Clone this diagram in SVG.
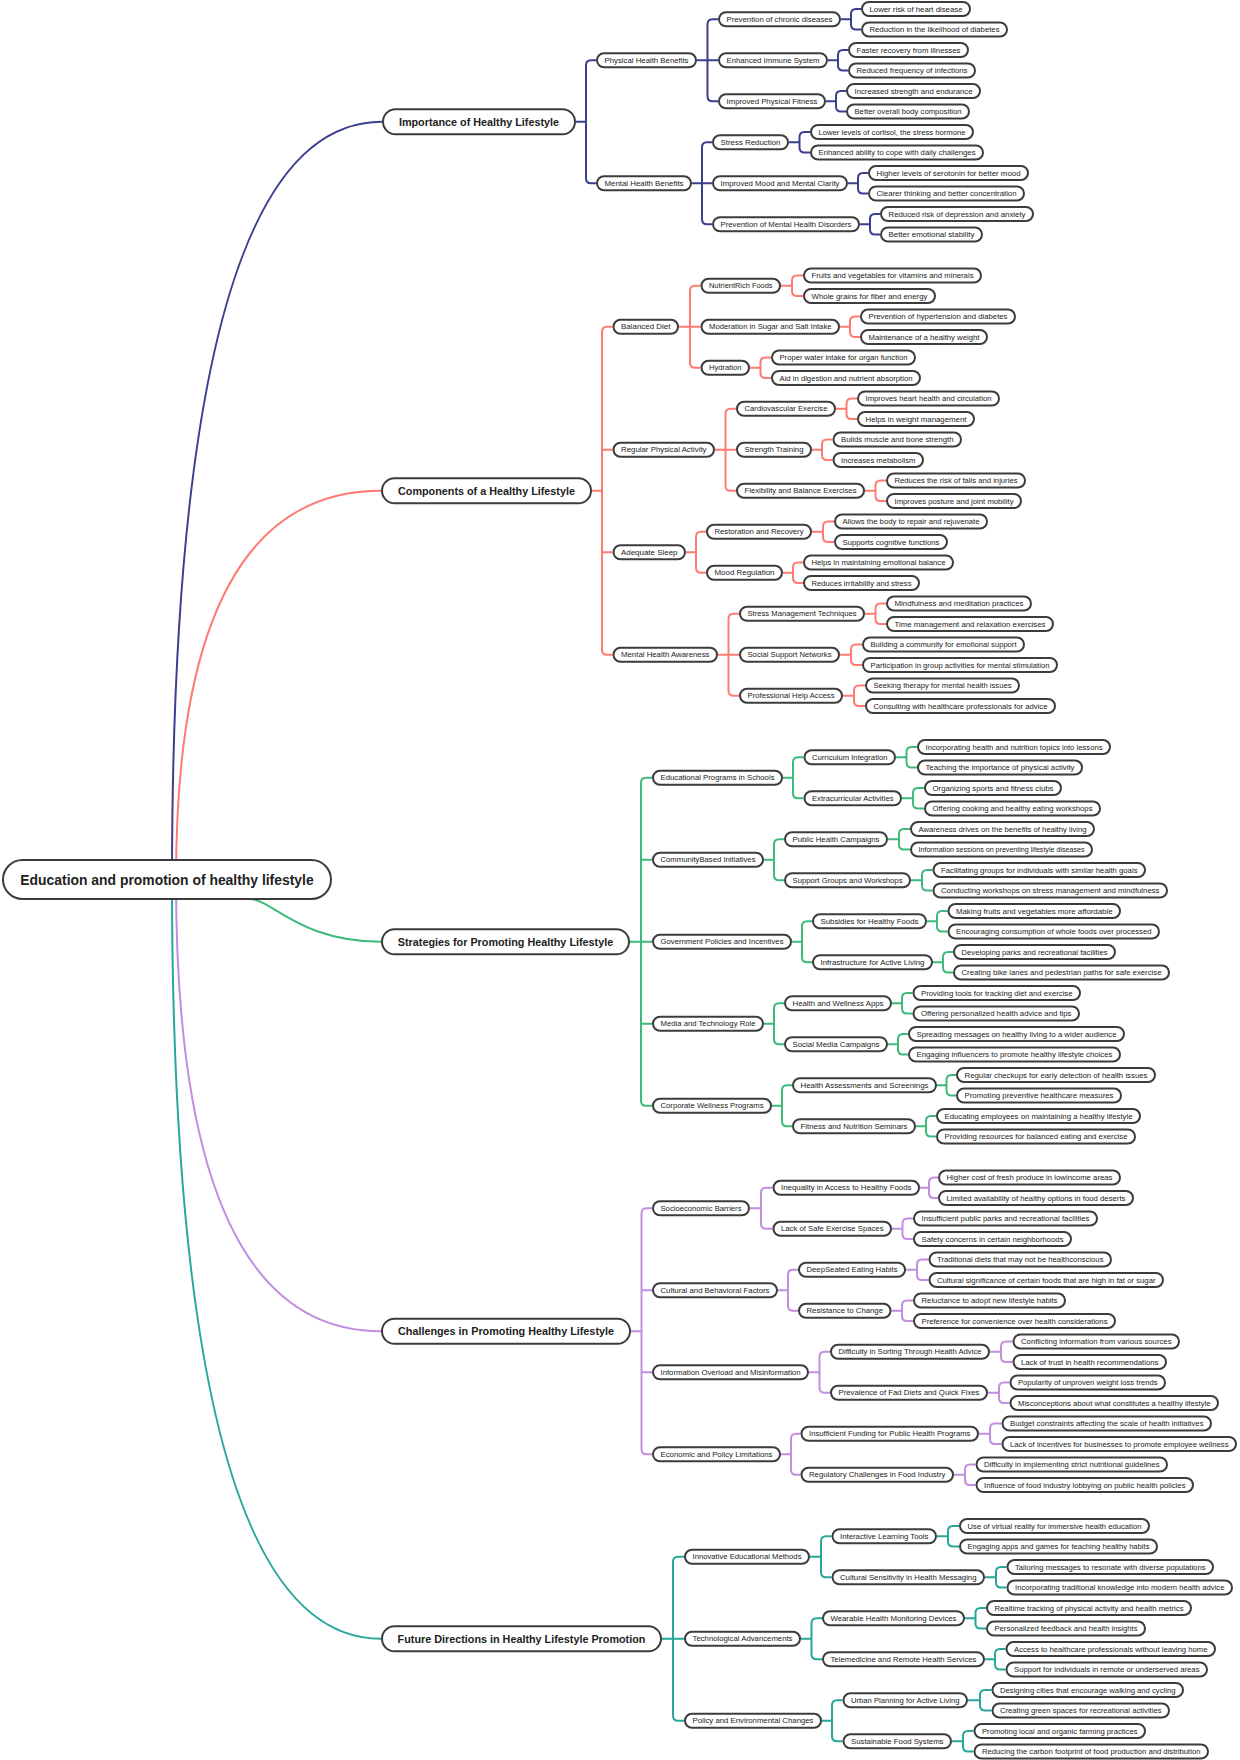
<svg xmlns="http://www.w3.org/2000/svg" width="1240" height="1760" viewBox="0 0 1240 1760">
<style>
.n rect{fill:#fff;stroke:#3c3c3c;stroke-width:2}
.n text{font-family:"Liberation Sans",Arial,sans-serif;font-size:7.6px;fill:#222;text-anchor:middle;dominant-baseline:central}
.m text{font-size:10.8px;font-weight:bold}
.r text{font-size:13.9px;font-weight:bold}
.l path{fill:none;stroke-width:2}
.c1{stroke:#3a3f8e}.c2{stroke:#ff7a72}.c3{stroke:#3dba7a}.c4{stroke:#c18ee0}.c5{stroke:#27a69a}
</style>
<rect width="1240" height="1760" fill="#fff"/>
<g id="connectors" class="l">
<path class="c1" d="M172 880Q172 121.75 382 121.75"/>
<path class="c2" d="M176 880Q176 490.75 381 490.75"/>
<path class="c3" d="M250 899C273 900 300 941.75 381 941.75"/>
<path class="c4" d="M176 880Q176 1331.25 381 1331.25"/>
<path class="c5" d="M172 880Q172 1638.75 381 1638.75"/>
<path class="c1" d="M576 121.75H586M596 60.25H591Q586 60.25 586 65.25V178.25Q586 183.25 591 183.25H596"/>
<path class="c1" d="M697 60.25H718M718 19.25H712.5Q707.5 19.25 707.5 24.25V96.25Q707.5 101.25 712.5 101.25H718"/>
<path class="c1" d="M692 183.25H712M712 142.25H707Q702 142.25 702 147.25V219.25Q702 224.25 707 224.25H712"/>
<path class="c1" d="M841 19.25H851M861 9H856Q851 9 851 14V24.5Q851 29.5 856 29.5H861"/>
<path class="c1" d="M828 60.25H838M848 50H843Q838 50 838 55V65.5Q838 70.5 843 70.5H848"/>
<path class="c1" d="M826 101.25H836M846 91H841Q836 91 836 96V106.5Q836 111.5 841 111.5H846"/>
<path class="c1" d="M789 142.25H799.5M810 132H804.5Q799.5 132 799.5 137V147.5Q799.5 152.5 804.5 152.5H810"/>
<path class="c1" d="M848 183.25H858M868 173H863Q858 173 858 178V188.5Q858 193.5 863 193.5H868"/>
<path class="c1" d="M860 224.25H870M880 214H875Q870 214 870 219V229.5Q870 234.5 875 234.5H880"/>
<path class="c2" d="M592 490.75H602M612.5 326.75H607Q602 326.75 602 331.75V649.75Q602 654.75 607 654.75H612.5M602 449.75H612.5M602 552.25H612.5"/>
<path class="c2" d="M679 326.75H700.5M700.5 285.75H695Q690 285.75 690 290.75V362.75Q690 367.75 695 367.75H700.5"/>
<path class="c2" d="M715 449.75H736M736 408.75H730.5Q725.5 408.75 725.5 413.75V485.75Q725.5 490.75 730.5 490.75H736"/>
<path class="c2" d="M686 552.25H696M706 531.75H701Q696 531.75 696 536.75V567.75Q696 572.75 701 572.75H706"/>
<path class="c2" d="M718 654.75H739M739 613.75H733.5Q728.5 613.75 728.5 618.75V690.75Q728.5 695.75 733.5 695.75H739"/>
<path class="c2" d="M781 285.75H792M803 275.5H797Q792 275.5 792 280.5V291Q792 296 797 296H803"/>
<path class="c2" d="M840 326.75H850M860 316.5H855Q850 316.5 850 321.5V332Q850 337 855 337H860"/>
<path class="c2" d="M750 367.75H760.5M771 357.5H765.5Q760.5 357.5 760.5 362.5V373Q760.5 378 765.5 378H771"/>
<path class="c2" d="M836 408.75H846.5M857 398.5H851.5Q846.5 398.5 846.5 403.5V414Q846.5 419 851.5 419H857"/>
<path class="c2" d="M812 449.75H822M832.5 439.5H827Q822 439.5 822 444.5V455Q822 460 827 460H832.5"/>
<path class="c2" d="M865 490.75H875.5M886 480.5H880.5Q875.5 480.5 875.5 485.5V496Q875.5 501 880.5 501H886"/>
<path class="c2" d="M812 531.75H823M834 521.5H828Q823 521.5 823 526.5V537Q823 542 828 542H834"/>
<path class="c2" d="M783 572.75H793M803 562.5H798Q793 562.5 793 567.5V578Q793 583 798 583H803"/>
<path class="c2" d="M865 613.75H875.5M886 603.5H880.5Q875.5 603.5 875.5 608.5V619Q875.5 624 880.5 624H886"/>
<path class="c2" d="M840 654.75H851M862 644.5H856Q851 644.5 851 649.5V660Q851 665 856 665H862"/>
<path class="c2" d="M843 695.75H854M865 685.5H859Q854 685.5 854 690.5V701Q854 706 859 706H865"/>
<path class="c3" d="M630 941.75H652M652 777.75H646Q641 777.75 641 782.75V1100.75Q641 1105.75 646 1105.75H652M641 859.75H652M641 1023.75H652"/>
<path class="c3" d="M783 777.75H793M803.5 757.25H798Q793 757.25 793 762.25V793.25Q793 798.25 798 798.25H803.5"/>
<path class="c3" d="M764 859.75H774M784 839.25H779Q774 839.25 774 844.25V875.25Q774 880.25 779 880.25H784"/>
<path class="c3" d="M792 941.75H802M812 921.25H807Q802 921.25 802 926.25V957.25Q802 962.25 807 962.25H812"/>
<path class="c3" d="M764 1023.75H774M784 1003.25H779Q774 1003.25 774 1008.25V1039.25Q774 1044.25 779 1044.25H784"/>
<path class="c3" d="M772 1105.75H782M792 1085.25H787Q782 1085.25 782 1090.25V1121.25Q782 1126.25 787 1126.25H792"/>
<path class="c3" d="M896 757.25H906.5M917 747H911.5Q906.5 747 906.5 752V762.5Q906.5 767.5 911.5 767.5H917"/>
<path class="c3" d="M902 798.25H913M924 788H918Q913 788 913 793V803.5Q913 808.5 918 808.5H924"/>
<path class="c3" d="M888 839.25H899M910 829H904Q899 829 899 834V844.5Q899 849.5 904 849.5H910"/>
<path class="c3" d="M911 880.25H922M932.5 870H927Q922 870 922 875V885.5Q922 890.5 927 890.5H932.5"/>
<path class="c3" d="M927 921.25H937M947.5 911H942Q937 911 937 916V926.5Q937 931.5 942 931.5H947.5"/>
<path class="c3" d="M933 962.25H943M953 952H948Q943 952 943 957V967.5Q943 972.5 948 972.5H953"/>
<path class="c3" d="M892 1003.25H902M912.5 993H907Q902 993 902 998V1008.5Q902 1013.5 907 1013.5H912.5"/>
<path class="c3" d="M888 1044.25H898M908 1034H903Q898 1034 898 1039V1049.5Q898 1054.5 903 1054.5H908"/>
<path class="c3" d="M937 1085.25H946.5M956 1075H951.5Q946.5 1075 946.5 1080V1090.5Q946.5 1095.5 951.5 1095.5H956"/>
<path class="c3" d="M916 1126.25H926M936 1116H931Q926 1116 926 1121V1131.5Q926 1136.5 931 1136.5H936"/>
<path class="c4" d="M631 1331.25H641.5M652 1208.25H646.5Q641.5 1208.25 641.5 1213.25V1449.25Q641.5 1454.25 646.5 1454.25H652M641.5 1290.25H652M641.5 1372.25H652"/>
<path class="c4" d="M750 1208.25H761M772.5 1187.75H766Q761 1187.75 761 1192.75V1223.75Q761 1228.75 766 1228.75H772.5"/>
<path class="c4" d="M778 1290.25H788M798 1269.75H793Q788 1269.75 788 1274.75V1305.75Q788 1310.75 793 1310.75H798"/>
<path class="c4" d="M809 1372.25H819.5M830 1351.75H824.5Q819.5 1351.75 819.5 1356.75V1387.75Q819.5 1392.75 824.5 1392.75H830"/>
<path class="c4" d="M781 1454.25H791M800.5 1433.75H796Q791 1433.75 791 1438.75V1469.75Q791 1474.75 796 1474.75H800.5"/>
<path class="c4" d="M920 1187.75H929M938 1177.5H934Q929 1177.5 929 1182.5V1193Q929 1198 934 1198H938"/>
<path class="c4" d="M892 1228.75H902.5M913 1218.5H907.5Q902.5 1218.5 902.5 1223.5V1234Q902.5 1239 907.5 1239H913"/>
<path class="c4" d="M906 1269.75H917M928.5 1259.5H922Q917 1259.5 917 1264.5V1275Q917 1280 922 1280H928.5"/>
<path class="c4" d="M891.5 1310.75H902M913 1300.5H907Q902 1300.5 902 1305.5V1316Q902 1321 907 1321H913"/>
<path class="c4" d="M990 1351.75H1001M1012.5 1341.5H1006Q1001 1341.5 1001 1346.5V1357Q1001 1362 1006 1362H1012.5"/>
<path class="c4" d="M988 1392.75H999M1009.5 1382.5H1004Q999 1382.5 999 1387.5V1398Q999 1403 1004 1403H1009.5"/>
<path class="c4" d="M979 1433.75H990M1001.5 1423.5H995Q990 1423.5 990 1428.5V1439Q990 1444 995 1444H1001.5"/>
<path class="c4" d="M954 1474.75H965M975.5 1464.5H970Q965 1464.5 965 1469.5V1480Q965 1485 970 1485H975.5"/>
<path class="c5" d="M662 1638.75H684M684 1556.75H678Q673 1556.75 673 1561.75V1715.75Q673 1720.75 678 1720.75H684"/>
<path class="c5" d="M810 1556.75H821M831.5 1536.25H826Q821 1536.25 821 1541.25V1572.25Q821 1577.25 826 1577.25H831.5"/>
<path class="c5" d="M801 1638.75H811.5M822 1618.25H816.5Q811.5 1618.25 811.5 1623.25V1654.25Q811.5 1659.25 816.5 1659.25H822"/>
<path class="c5" d="M822 1720.75H832M842.5 1700.25H837Q832 1700.25 832 1705.25V1736.25Q832 1741.25 837 1741.25H842.5"/>
<path class="c5" d="M937 1536.25H948M959 1526H953Q948 1526 948 1531V1541.5Q948 1546.5 953 1546.5H959"/>
<path class="c5" d="M985 1577.25H996M1006.5 1567H1001Q996 1567 996 1572V1582.5Q996 1587.5 1001 1587.5H1006.5"/>
<path class="c5" d="M965 1618.25H975.5M986 1608H980.5Q975.5 1608 975.5 1613V1623.5Q975.5 1628.5 980.5 1628.5H986"/>
<path class="c5" d="M985 1659.25H995M1005.5 1649H1000Q995 1649 995 1654V1664.5Q995 1669.5 1000 1669.5H1005.5"/>
<path class="c5" d="M968 1700.25H980M991.5 1690H985Q980 1690 980 1695V1705.5Q980 1710.5 985 1710.5H991.5"/>
<path class="c5" d="M952 1741.25H963M973.5 1731H968Q963 1731 963 1736V1746.5Q963 1751.5 968 1751.5H973.5"/>
</g>
<g id="root" class="n r"><rect x="3" y="860" width="328" height="39" rx="19.5"/><text x="167" y="879.5">Education and promotion of healthy lifestyle</text></g>
<g id="main1" class="n m"><rect x="383" y="109.25" width="192" height="25" rx="12.5"/><text x="479" y="121.75">Importance of Healthy Lifestyle</text></g>
<g id="main2" class="n m"><rect x="382" y="478.25" width="209" height="25" rx="12.5"/><text x="486.5" y="490.75">Components of a Healthy Lifestyle</text></g>
<g id="main3" class="n m"><rect x="382" y="929.25" width="247" height="25" rx="12.5"/><text x="505.5" y="941.75">Strategies for Promoting Healthy Lifestyle</text></g>
<g id="main4" class="n m"><rect x="382" y="1318.75" width="248" height="25" rx="12.5"/><text x="506" y="1331.25">Challenges in Promoting Healthy Lifestyle</text></g>
<g id="main5" class="n m"><rect x="382" y="1626.25" width="279" height="25" rx="12.5"/><text x="521.5" y="1638.75">Future Directions in Healthy Lifestyle Promotion</text></g>
<g id="n1a" class="n"><rect x="597" y="53.25" width="99" height="14" rx="7"/><text x="646.5" y="60.25" textLength="84" lengthAdjust="spacingAndGlyphs">Physical Health Benefits</text></g>
<g id="n1b" class="n"><rect x="597" y="176.25" width="94" height="14" rx="7"/><text x="644" y="183.25" textLength="79" lengthAdjust="spacingAndGlyphs">Mental Health Benefits</text></g>
<g id="n1a1" class="n"><rect x="719" y="12.25" width="121" height="14" rx="7"/><text x="779.5" y="19.25" textLength="106" lengthAdjust="spacingAndGlyphs">Prevention of chronic diseases</text></g>
<g id="n1a2" class="n"><rect x="719" y="53.25" width="108" height="14" rx="7"/><text x="773" y="60.25" textLength="93" lengthAdjust="spacingAndGlyphs">Enhanced Immune System</text></g>
<g id="n1a3" class="n"><rect x="719" y="94.25" width="106" height="14" rx="7"/><text x="772" y="101.25" textLength="91" lengthAdjust="spacingAndGlyphs">Improved Physical Fitness</text></g>
<g id="n1b1" class="n"><rect x="713" y="135.25" width="75" height="14" rx="7"/><text x="750.5" y="142.25" textLength="60" lengthAdjust="spacingAndGlyphs">Stress Reduction</text></g>
<g id="n1b2" class="n"><rect x="713" y="176.25" width="134" height="14" rx="7"/><text x="780" y="183.25" textLength="119" lengthAdjust="spacingAndGlyphs">Improved Mood and Mental Clarity</text></g>
<g id="n1b3" class="n"><rect x="713" y="217.25" width="146" height="14" rx="7"/><text x="786" y="224.25" textLength="131" lengthAdjust="spacingAndGlyphs">Prevention of Mental Health Disorders</text></g>
<g id="f0" class="n"><rect x="862" y="2" width="108" height="14" rx="7"/><text x="916" y="9" textLength="93" lengthAdjust="spacingAndGlyphs">Lower risk of heart disease</text></g>
<g id="f1" class="n"><rect x="862" y="22.5" width="145" height="14" rx="7"/><text x="934.5" y="29.5" textLength="130" lengthAdjust="spacingAndGlyphs">Reduction in the likelihood of diabetes</text></g>
<g id="f2" class="n"><rect x="849" y="43" width="119" height="14" rx="7"/><text x="908.5" y="50" textLength="104" lengthAdjust="spacingAndGlyphs">Faster recovery from illnesses</text></g>
<g id="f3" class="n"><rect x="849" y="63.5" width="126" height="14" rx="7"/><text x="912" y="70.5" textLength="111" lengthAdjust="spacingAndGlyphs">Reduced frequency of infections</text></g>
<g id="f4" class="n"><rect x="847" y="84" width="133" height="14" rx="7"/><text x="913.5" y="91" textLength="118" lengthAdjust="spacingAndGlyphs">Increased strength and endurance</text></g>
<g id="f5" class="n"><rect x="847" y="104.5" width="122" height="14" rx="7"/><text x="908" y="111.5" textLength="107" lengthAdjust="spacingAndGlyphs">Better overall body composition</text></g>
<g id="f6" class="n"><rect x="811" y="125" width="162" height="14" rx="7"/><text x="892" y="132" textLength="147" lengthAdjust="spacingAndGlyphs">Lower levels of cortisol, the stress hormone</text></g>
<g id="f7" class="n"><rect x="811" y="145.5" width="172" height="14" rx="7"/><text x="897" y="152.5" textLength="157" lengthAdjust="spacingAndGlyphs">Enhanced ability to cope with daily challenges</text></g>
<g id="f8" class="n"><rect x="869" y="166" width="159" height="14" rx="7"/><text x="948.5" y="173" textLength="144" lengthAdjust="spacingAndGlyphs">Higher levels of serotonin for better mood</text></g>
<g id="f9" class="n"><rect x="869" y="186.5" width="155" height="14" rx="7"/><text x="946.5" y="193.5" textLength="140" lengthAdjust="spacingAndGlyphs">Clearer thinking and better concentration</text></g>
<g id="f10" class="n"><rect x="881" y="207" width="152" height="14" rx="7"/><text x="957" y="214" textLength="137" lengthAdjust="spacingAndGlyphs">Reduced risk of depression and anxiety</text></g>
<g id="f11" class="n"><rect x="881" y="227.5" width="101" height="14" rx="7"/><text x="931.5" y="234.5" textLength="86" lengthAdjust="spacingAndGlyphs">Better emotional stability</text></g>
<g id="n2a" class="n"><rect x="613.5" y="319.75" width="64.5" height="14" rx="7"/><text x="645.75" y="326.75" textLength="49.5" lengthAdjust="spacingAndGlyphs">Balanced Diet</text></g>
<g id="n2b" class="n"><rect x="613.5" y="442.75" width="100.5" height="14" rx="7"/><text x="663.75" y="449.75" textLength="85.5" lengthAdjust="spacingAndGlyphs">Regular Physical Activity</text></g>
<g id="n2c" class="n"><rect x="613.5" y="545.25" width="71.5" height="14" rx="7"/><text x="649.25" y="552.25" textLength="56.5" lengthAdjust="spacingAndGlyphs">Adequate Sleep</text></g>
<g id="n2d" class="n"><rect x="613.5" y="647.75" width="103.5" height="14" rx="7"/><text x="665.25" y="654.75" textLength="88.5" lengthAdjust="spacingAndGlyphs">Mental Health Awareness</text></g>
<g id="n2a1" class="n"><rect x="701.5" y="278.75" width="78.5" height="14" rx="7"/><text x="740.75" y="285.75" textLength="63.5" lengthAdjust="spacingAndGlyphs">NutrientRich Foods</text></g>
<g id="n2a2" class="n"><rect x="701.5" y="319.75" width="137.5" height="14" rx="7"/><text x="770.25" y="326.75" textLength="122.5" lengthAdjust="spacingAndGlyphs">Moderation in Sugar and Salt Intake</text></g>
<g id="n2a3" class="n"><rect x="701.5" y="360.75" width="47.5" height="14" rx="7"/><text x="725.25" y="367.75" textLength="32.5" lengthAdjust="spacingAndGlyphs">Hydration</text></g>
<g id="n2b1" class="n"><rect x="737" y="401.75" width="98" height="14" rx="7"/><text x="786" y="408.75" textLength="83" lengthAdjust="spacingAndGlyphs">Cardiovascular Exercise</text></g>
<g id="n2b2" class="n"><rect x="737" y="442.75" width="74" height="14" rx="7"/><text x="774" y="449.75" textLength="59" lengthAdjust="spacingAndGlyphs">Strength Training</text></g>
<g id="n2b3" class="n"><rect x="737" y="483.75" width="127" height="14" rx="7"/><text x="800.5" y="490.75" textLength="112" lengthAdjust="spacingAndGlyphs">Flexibility and Balance Exercises</text></g>
<g id="n2c1" class="n"><rect x="707" y="524.75" width="104" height="14" rx="7"/><text x="759" y="531.75" textLength="89" lengthAdjust="spacingAndGlyphs">Restoration and Recovery</text></g>
<g id="n2c2" class="n"><rect x="707" y="565.75" width="75" height="14" rx="7"/><text x="744.5" y="572.75" textLength="60" lengthAdjust="spacingAndGlyphs">Mood Regulation</text></g>
<g id="n2d1" class="n"><rect x="740" y="606.75" width="124" height="14" rx="7"/><text x="802" y="613.75" textLength="109" lengthAdjust="spacingAndGlyphs">Stress Management Techniques</text></g>
<g id="n2d2" class="n"><rect x="740" y="647.75" width="99" height="14" rx="7"/><text x="789.5" y="654.75" textLength="84" lengthAdjust="spacingAndGlyphs">Social Support Networks</text></g>
<g id="n2d3" class="n"><rect x="740" y="688.75" width="102" height="14" rx="7"/><text x="791" y="695.75" textLength="87" lengthAdjust="spacingAndGlyphs">Professional Help Access</text></g>
<g id="f13" class="n"><rect x="804" y="268.5" width="177" height="14" rx="7"/><text x="892.5" y="275.5" textLength="162" lengthAdjust="spacingAndGlyphs">Fruits and vegetables for vitamins and minerals</text></g>
<g id="f14" class="n"><rect x="804" y="289" width="131" height="14" rx="7"/><text x="869.5" y="296" textLength="116" lengthAdjust="spacingAndGlyphs">Whole grains for fiber and energy</text></g>
<g id="f15" class="n"><rect x="861" y="309.5" width="154" height="14" rx="7"/><text x="938" y="316.5" textLength="139" lengthAdjust="spacingAndGlyphs">Prevention of hypertension and diabetes</text></g>
<g id="f16" class="n"><rect x="861" y="330" width="126" height="14" rx="7"/><text x="924" y="337" textLength="111" lengthAdjust="spacingAndGlyphs">Maintenance of a healthy weight</text></g>
<g id="f17" class="n"><rect x="772" y="350.5" width="143" height="14" rx="7"/><text x="843.5" y="357.5" textLength="128" lengthAdjust="spacingAndGlyphs">Proper water intake for organ function</text></g>
<g id="f18" class="n"><rect x="772" y="371" width="148" height="14" rx="7"/><text x="846" y="378" textLength="133" lengthAdjust="spacingAndGlyphs">Aid in digestion and nutrient absorption</text></g>
<g id="f19" class="n"><rect x="858" y="391.5" width="141" height="14" rx="7"/><text x="928.5" y="398.5" textLength="126" lengthAdjust="spacingAndGlyphs">Improves heart health and circulation</text></g>
<g id="f20" class="n"><rect x="858" y="412" width="116" height="14" rx="7"/><text x="916" y="419" textLength="101" lengthAdjust="spacingAndGlyphs">Helps in weight management</text></g>
<g id="f21" class="n"><rect x="833.5" y="432.5" width="127.5" height="14" rx="7"/><text x="897.25" y="439.5" textLength="112.5" lengthAdjust="spacingAndGlyphs">Builds muscle and bone strength</text></g>
<g id="f22" class="n"><rect x="833.5" y="453" width="89.5" height="14" rx="7"/><text x="878.25" y="460" textLength="74.5" lengthAdjust="spacingAndGlyphs">Increases metabolism</text></g>
<g id="f23" class="n"><rect x="887" y="473.5" width="138" height="14" rx="7"/><text x="956" y="480.5" textLength="123" lengthAdjust="spacingAndGlyphs">Reduces the risk of falls and injuries</text></g>
<g id="f24" class="n"><rect x="887" y="494" width="134" height="14" rx="7"/><text x="954" y="501" textLength="119" lengthAdjust="spacingAndGlyphs">Improves posture and joint mobility</text></g>
<g id="f25" class="n"><rect x="835" y="514.5" width="152" height="14" rx="7"/><text x="911" y="521.5" textLength="137" lengthAdjust="spacingAndGlyphs">Allows the body to repair and rejuvenate</text></g>
<g id="f26" class="n"><rect x="835" y="535" width="112" height="14" rx="7"/><text x="891" y="542" textLength="97" lengthAdjust="spacingAndGlyphs">Supports cognitive functions</text></g>
<g id="f27" class="n"><rect x="804" y="555.5" width="149" height="14" rx="7"/><text x="878.5" y="562.5" textLength="134" lengthAdjust="spacingAndGlyphs">Helps in maintaining emotional balance</text></g>
<g id="f28" class="n"><rect x="804" y="576" width="115" height="14" rx="7"/><text x="861.5" y="583" textLength="100" lengthAdjust="spacingAndGlyphs">Reduces irritability and stress</text></g>
<g id="f29" class="n"><rect x="887" y="596.5" width="144" height="14" rx="7"/><text x="959" y="603.5" textLength="129" lengthAdjust="spacingAndGlyphs">Mindfulness and meditation practices</text></g>
<g id="f30" class="n"><rect x="887" y="617" width="166" height="14" rx="7"/><text x="970" y="624" textLength="151" lengthAdjust="spacingAndGlyphs">Time management and relaxation exercises</text></g>
<g id="f31" class="n"><rect x="863" y="637.5" width="161" height="14" rx="7"/><text x="943.5" y="644.5" textLength="146" lengthAdjust="spacingAndGlyphs">Building a community for emotional support</text></g>
<g id="f32" class="n"><rect x="863" y="658" width="194" height="14" rx="7"/><text x="960" y="665" textLength="179" lengthAdjust="spacingAndGlyphs">Participation in group activities for mental stimulation</text></g>
<g id="f33" class="n"><rect x="866" y="678.5" width="153" height="14" rx="7"/><text x="942.5" y="685.5" textLength="138" lengthAdjust="spacingAndGlyphs">Seeking therapy for mental health issues</text></g>
<g id="f34" class="n"><rect x="866" y="699" width="189" height="14" rx="7"/><text x="960.5" y="706" textLength="174" lengthAdjust="spacingAndGlyphs">Consulting with healthcare professionals for advice</text></g>
<g id="n3a" class="n"><rect x="653" y="770.75" width="129" height="14" rx="7"/><text x="717.5" y="777.75" textLength="114" lengthAdjust="spacingAndGlyphs">Educational Programs in Schools</text></g>
<g id="n3b" class="n"><rect x="653" y="852.75" width="110" height="14" rx="7"/><text x="708" y="859.75" textLength="95" lengthAdjust="spacingAndGlyphs">CommunityBased Initiatives</text></g>
<g id="n3c" class="n"><rect x="653" y="934.75" width="138" height="14" rx="7"/><text x="722" y="941.75" textLength="123" lengthAdjust="spacingAndGlyphs">Government Policies and Incentives</text></g>
<g id="n3d" class="n"><rect x="653" y="1016.75" width="110" height="14" rx="7"/><text x="708" y="1023.75" textLength="95" lengthAdjust="spacingAndGlyphs">Media and Technology Role</text></g>
<g id="n3e" class="n"><rect x="653" y="1098.75" width="118" height="14" rx="7"/><text x="712" y="1105.75" textLength="103" lengthAdjust="spacingAndGlyphs">Corporate Wellness Programs</text></g>
<g id="n3a1" class="n"><rect x="804.5" y="750.25" width="90.5" height="14" rx="7"/><text x="849.75" y="757.25" textLength="75.5" lengthAdjust="spacingAndGlyphs">Curriculum Integration</text></g>
<g id="n3a2" class="n"><rect x="804.5" y="791.25" width="96.5" height="14" rx="7"/><text x="852.75" y="798.25" textLength="81.5" lengthAdjust="spacingAndGlyphs">Extracurricular Activities</text></g>
<g id="n3b1" class="n"><rect x="785" y="832.25" width="102" height="14" rx="7"/><text x="836" y="839.25" textLength="87" lengthAdjust="spacingAndGlyphs">Public Health Campaigns</text></g>
<g id="n3b2" class="n"><rect x="785" y="873.25" width="125" height="14" rx="7"/><text x="847.5" y="880.25" textLength="110" lengthAdjust="spacingAndGlyphs">Support Groups and Workshops</text></g>
<g id="n3c1" class="n"><rect x="813" y="914.25" width="113" height="14" rx="7"/><text x="869.5" y="921.25" textLength="98" lengthAdjust="spacingAndGlyphs">Subsidies for Healthy Foods</text></g>
<g id="n3c2" class="n"><rect x="813" y="955.25" width="119" height="14" rx="7"/><text x="872.5" y="962.25" textLength="104" lengthAdjust="spacingAndGlyphs">Infrastructure for Active Living</text></g>
<g id="n3d1" class="n"><rect x="785" y="996.25" width="106" height="14" rx="7"/><text x="838" y="1003.25" textLength="91" lengthAdjust="spacingAndGlyphs">Health and Wellness Apps</text></g>
<g id="n3d2" class="n"><rect x="785" y="1037.25" width="102" height="14" rx="7"/><text x="836" y="1044.25" textLength="87" lengthAdjust="spacingAndGlyphs">Social Media Campaigns</text></g>
<g id="n3e1" class="n"><rect x="793" y="1078.25" width="143" height="14" rx="7"/><text x="864.5" y="1085.25" textLength="128" lengthAdjust="spacingAndGlyphs">Health Assessments and Screenings</text></g>
<g id="n3e2" class="n"><rect x="793" y="1119.25" width="122" height="14" rx="7"/><text x="854" y="1126.25" textLength="107" lengthAdjust="spacingAndGlyphs">Fitness and Nutrition Seminars</text></g>
<g id="f36" class="n"><rect x="918" y="740" width="192" height="14" rx="7"/><text x="1014" y="747" textLength="177" lengthAdjust="spacingAndGlyphs">Incorporating health and nutrition topics into lessons</text></g>
<g id="f37" class="n"><rect x="918" y="760.5" width="164" height="14" rx="7"/><text x="1000" y="767.5" textLength="149" lengthAdjust="spacingAndGlyphs">Teaching the importance of physical activity</text></g>
<g id="f38" class="n"><rect x="925" y="781" width="136" height="14" rx="7"/><text x="993" y="788" textLength="121" lengthAdjust="spacingAndGlyphs">Organizing sports and fitness clubs</text></g>
<g id="f39" class="n"><rect x="925" y="801.5" width="175" height="14" rx="7"/><text x="1012.5" y="808.5" textLength="160" lengthAdjust="spacingAndGlyphs">Offering cooking and healthy eating workshops</text></g>
<g id="f40" class="n"><rect x="911" y="822" width="183" height="14" rx="7"/><text x="1002.5" y="829" textLength="168" lengthAdjust="spacingAndGlyphs">Awareness drives on the benefits of healthy living</text></g>
<g id="f41" class="n"><rect x="911" y="842.5" width="181" height="14" rx="7"/><text x="1001.5" y="849.5" textLength="166" lengthAdjust="spacingAndGlyphs">Information sessions on preventing lifestyle diseases</text></g>
<g id="f42" class="n"><rect x="933.5" y="863" width="211.5" height="14" rx="7"/><text x="1039.25" y="870" textLength="196.5" lengthAdjust="spacingAndGlyphs">Facilitating groups for individuals with similar health goals</text></g>
<g id="f43" class="n"><rect x="933.5" y="883.5" width="233.5" height="14" rx="7"/><text x="1050.25" y="890.5" textLength="218.5" lengthAdjust="spacingAndGlyphs">Conducting workshops on stress management and mindfulness</text></g>
<g id="f44" class="n"><rect x="948.5" y="904" width="171.5" height="14" rx="7"/><text x="1034.25" y="911" textLength="156.5" lengthAdjust="spacingAndGlyphs">Making fruits and vegetables more affordable</text></g>
<g id="f45" class="n"><rect x="948.5" y="924.5" width="210.5" height="14" rx="7"/><text x="1053.75" y="931.5" textLength="195.5" lengthAdjust="spacingAndGlyphs">Encouraging consumption of whole foods over processed</text></g>
<g id="f46" class="n"><rect x="954" y="945" width="161" height="14" rx="7"/><text x="1034.5" y="952" textLength="146" lengthAdjust="spacingAndGlyphs">Developing parks and recreational facilities</text></g>
<g id="f47" class="n"><rect x="954" y="965.5" width="215" height="14" rx="7"/><text x="1061.5" y="972.5" textLength="200" lengthAdjust="spacingAndGlyphs">Creating bike lanes and pedestrian paths for safe exercise</text></g>
<g id="f48" class="n"><rect x="913.5" y="986" width="166.5" height="14" rx="7"/><text x="996.75" y="993" textLength="151.5" lengthAdjust="spacingAndGlyphs">Providing tools for tracking diet and exercise</text></g>
<g id="f49" class="n"><rect x="913.5" y="1006.5" width="165.5" height="14" rx="7"/><text x="996.25" y="1013.5" textLength="150.5" lengthAdjust="spacingAndGlyphs">Offering personalized health advice and tips</text></g>
<g id="f50" class="n"><rect x="909" y="1027" width="215" height="14" rx="7"/><text x="1016.5" y="1034" textLength="200" lengthAdjust="spacingAndGlyphs">Spreading messages on healthy living to a wider audience</text></g>
<g id="f51" class="n"><rect x="909" y="1047.5" width="211" height="14" rx="7"/><text x="1014.5" y="1054.5" textLength="196" lengthAdjust="spacingAndGlyphs">Engaging influencers to promote healthy lifestyle choices</text></g>
<g id="f52" class="n"><rect x="957" y="1068" width="198" height="14" rx="7"/><text x="1056" y="1075" textLength="183" lengthAdjust="spacingAndGlyphs">Regular checkups for early detection of health issues</text></g>
<g id="f53" class="n"><rect x="957" y="1088.5" width="164" height="14" rx="7"/><text x="1039" y="1095.5" textLength="149" lengthAdjust="spacingAndGlyphs">Promoting preventive healthcare measures</text></g>
<g id="f54" class="n"><rect x="937" y="1109" width="203" height="14" rx="7"/><text x="1038.5" y="1116" textLength="188" lengthAdjust="spacingAndGlyphs">Educating employees on maintaining a healthy lifestyle</text></g>
<g id="f55" class="n"><rect x="937" y="1129.5" width="198" height="14" rx="7"/><text x="1036" y="1136.5" textLength="183" lengthAdjust="spacingAndGlyphs">Providing resources for balanced eating and exercise</text></g>
<g id="n4a" class="n"><rect x="653" y="1201.25" width="96" height="14" rx="7"/><text x="701" y="1208.25" textLength="81" lengthAdjust="spacingAndGlyphs">Socioeconomic Barriers</text></g>
<g id="n4b" class="n"><rect x="653" y="1283.25" width="124" height="14" rx="7"/><text x="715" y="1290.25" textLength="109" lengthAdjust="spacingAndGlyphs">Cultural and Behavioral Factors</text></g>
<g id="n4c" class="n"><rect x="653" y="1365.25" width="155" height="14" rx="7"/><text x="730.5" y="1372.25" textLength="140" lengthAdjust="spacingAndGlyphs">Information Overload and Misinformation</text></g>
<g id="n4d" class="n"><rect x="653" y="1447.25" width="127" height="14" rx="7"/><text x="716.5" y="1454.25" textLength="112" lengthAdjust="spacingAndGlyphs">Economic and Policy Limitations</text></g>
<g id="n4a1" class="n"><rect x="773.5" y="1180.75" width="145.5" height="14" rx="7"/><text x="846.25" y="1187.75" textLength="130.5" lengthAdjust="spacingAndGlyphs">Inequality in Access to Healthy Foods</text></g>
<g id="n4a2" class="n"><rect x="773.5" y="1221.75" width="117.5" height="14" rx="7"/><text x="832.25" y="1228.75" textLength="102.5" lengthAdjust="spacingAndGlyphs">Lack of Safe Exercise Spaces</text></g>
<g id="n4b1" class="n"><rect x="799" y="1262.75" width="106" height="14" rx="7"/><text x="852" y="1269.75" textLength="91" lengthAdjust="spacingAndGlyphs">DeepSeated Eating Habits</text></g>
<g id="n4b2" class="n"><rect x="799" y="1303.75" width="91.5" height="14" rx="7"/><text x="844.75" y="1310.75" textLength="76.5" lengthAdjust="spacingAndGlyphs">Resistance to Change</text></g>
<g id="n4c1" class="n"><rect x="831" y="1344.75" width="158" height="14" rx="7"/><text x="910" y="1351.75" textLength="143" lengthAdjust="spacingAndGlyphs">Difficulty in Sorting Through Health Advice</text></g>
<g id="n4c2" class="n"><rect x="831" y="1385.75" width="156" height="14" rx="7"/><text x="909" y="1392.75" textLength="141" lengthAdjust="spacingAndGlyphs">Prevalence of Fad Diets and Quick Fixes</text></g>
<g id="n4d1" class="n"><rect x="801.5" y="1426.75" width="176.5" height="14" rx="7"/><text x="889.75" y="1433.75" textLength="161.5" lengthAdjust="spacingAndGlyphs">Insufficient Funding for Public Health Programs</text></g>
<g id="n4d2" class="n"><rect x="801.5" y="1467.75" width="151.5" height="14" rx="7"/><text x="877.25" y="1474.75" textLength="136.5" lengthAdjust="spacingAndGlyphs">Regulatory Challenges in Food Industry</text></g>
<g id="f57" class="n"><rect x="939" y="1170.5" width="181" height="14" rx="7"/><text x="1029.5" y="1177.5" textLength="166" lengthAdjust="spacingAndGlyphs">Higher cost of fresh produce in lowincome areas</text></g>
<g id="f58" class="n"><rect x="939" y="1191" width="194" height="14" rx="7"/><text x="1036" y="1198" textLength="179" lengthAdjust="spacingAndGlyphs">Limited availability of healthy options in food deserts</text></g>
<g id="f59" class="n"><rect x="914" y="1211.5" width="183" height="14" rx="7"/><text x="1005.5" y="1218.5" textLength="168" lengthAdjust="spacingAndGlyphs">Insufficient public parks and recreational facilities</text></g>
<g id="f60" class="n"><rect x="914" y="1232" width="157" height="14" rx="7"/><text x="992.5" y="1239" textLength="142" lengthAdjust="spacingAndGlyphs">Safety concerns in certain neighborhoods</text></g>
<g id="f61" class="n"><rect x="929.5" y="1252.5" width="181.5" height="14" rx="7"/><text x="1020.25" y="1259.5" textLength="166.5" lengthAdjust="spacingAndGlyphs">Traditional diets that may not be healthconscious</text></g>
<g id="f62" class="n"><rect x="929.5" y="1273" width="233.5" height="14" rx="7"/><text x="1046.25" y="1280" textLength="218.5" lengthAdjust="spacingAndGlyphs">Cultural significance of certain foods that are high in fat or sugar</text></g>
<g id="f63" class="n"><rect x="914" y="1293.5" width="151" height="14" rx="7"/><text x="989.5" y="1300.5" textLength="136" lengthAdjust="spacingAndGlyphs">Reluctance to adopt new lifestyle habits</text></g>
<g id="f64" class="n"><rect x="914" y="1314" width="201" height="14" rx="7"/><text x="1014.5" y="1321" textLength="186" lengthAdjust="spacingAndGlyphs">Preference for convenience over health considerations</text></g>
<g id="f65" class="n"><rect x="1013.5" y="1334.5" width="165.5" height="14" rx="7"/><text x="1096.25" y="1341.5" textLength="150.5" lengthAdjust="spacingAndGlyphs">Conflicting information from various sources</text></g>
<g id="f66" class="n"><rect x="1013.5" y="1355" width="152.5" height="14" rx="7"/><text x="1089.75" y="1362" textLength="137.5" lengthAdjust="spacingAndGlyphs">Lack of trust in health recommendations</text></g>
<g id="f67" class="n"><rect x="1010.5" y="1375.5" width="154.5" height="14" rx="7"/><text x="1087.75" y="1382.5" textLength="139.5" lengthAdjust="spacingAndGlyphs">Popularity of unproven weight loss trends</text></g>
<g id="f68" class="n"><rect x="1010.5" y="1396" width="207.5" height="14" rx="7"/><text x="1114.25" y="1403" textLength="192.5" lengthAdjust="spacingAndGlyphs">Misconceptions about what constitutes a healthy lifestyle</text></g>
<g id="f69" class="n"><rect x="1002.5" y="1416.5" width="208.5" height="14" rx="7"/><text x="1106.75" y="1423.5" textLength="193.5" lengthAdjust="spacingAndGlyphs">Budget constraints affecting the scale of health initiatives</text></g>
<g id="f70" class="n"><rect x="1002.5" y="1437" width="233.5" height="14" rx="7"/><text x="1119.25" y="1444" textLength="218.5" lengthAdjust="spacingAndGlyphs">Lack of incentives for businesses to promote employee wellness</text></g>
<g id="f71" class="n"><rect x="976.5" y="1457.5" width="190.5" height="14" rx="7"/><text x="1071.75" y="1464.5" textLength="175.5" lengthAdjust="spacingAndGlyphs">Difficulty in implementing strict nutritional guidelines</text></g>
<g id="f72" class="n"><rect x="976.5" y="1478" width="216.5" height="14" rx="7"/><text x="1084.75" y="1485" textLength="201.5" lengthAdjust="spacingAndGlyphs">Influence of food industry lobbying on public health policies</text></g>
<g id="n5a" class="n"><rect x="685" y="1549.75" width="124" height="14" rx="7"/><text x="747" y="1556.75" textLength="109" lengthAdjust="spacingAndGlyphs">Innovative Educational Methods</text></g>
<g id="n5b" class="n"><rect x="685" y="1631.75" width="115" height="14" rx="7"/><text x="742.5" y="1638.75" textLength="100" lengthAdjust="spacingAndGlyphs">Technological Advancements</text></g>
<g id="n5c" class="n"><rect x="685" y="1713.75" width="136" height="14" rx="7"/><text x="753" y="1720.75" textLength="121" lengthAdjust="spacingAndGlyphs">Policy and Environmental Changes</text></g>
<g id="n5a1" class="n"><rect x="832.5" y="1529.25" width="103.5" height="14" rx="7"/><text x="884.25" y="1536.25" textLength="88.5" lengthAdjust="spacingAndGlyphs">Interactive Learning Tools</text></g>
<g id="n5a2" class="n"><rect x="832.5" y="1570.25" width="151.5" height="14" rx="7"/><text x="908.25" y="1577.25" textLength="136.5" lengthAdjust="spacingAndGlyphs">Cultural Sensitivity in Health Messaging</text></g>
<g id="n5b1" class="n"><rect x="823" y="1611.25" width="141" height="14" rx="7"/><text x="893.5" y="1618.25" textLength="126" lengthAdjust="spacingAndGlyphs">Wearable Health Monitoring Devices</text></g>
<g id="n5b2" class="n"><rect x="823" y="1652.25" width="161" height="14" rx="7"/><text x="903.5" y="1659.25" textLength="146" lengthAdjust="spacingAndGlyphs">Telemedicine and Remote Health Services</text></g>
<g id="n5c1" class="n"><rect x="843.5" y="1693.25" width="123.5" height="14" rx="7"/><text x="905.25" y="1700.25" textLength="108.5" lengthAdjust="spacingAndGlyphs">Urban Planning for Active Living</text></g>
<g id="n5c2" class="n"><rect x="843.5" y="1734.25" width="107.5" height="14" rx="7"/><text x="897.25" y="1741.25" textLength="92.5" lengthAdjust="spacingAndGlyphs">Sustainable Food Systems</text></g>
<g id="f74" class="n"><rect x="960" y="1519" width="189" height="14" rx="7"/><text x="1054.5" y="1526" textLength="174" lengthAdjust="spacingAndGlyphs">Use of virtual reality for immersive health education</text></g>
<g id="f75" class="n"><rect x="960" y="1539.5" width="197" height="14" rx="7"/><text x="1058.5" y="1546.5" textLength="182" lengthAdjust="spacingAndGlyphs">Engaging apps and games for teaching healthy habits</text></g>
<g id="f76" class="n"><rect x="1007.5" y="1560" width="205.5" height="14" rx="7"/><text x="1110.25" y="1567" textLength="190.5" lengthAdjust="spacingAndGlyphs">Tailoring messages to resonate with diverse populations</text></g>
<g id="f77" class="n"><rect x="1007.5" y="1580.5" width="224.5" height="14" rx="7"/><text x="1119.75" y="1587.5" textLength="209.5" lengthAdjust="spacingAndGlyphs">Incorporating traditional knowledge into modern health advice</text></g>
<g id="f78" class="n"><rect x="987" y="1601" width="204" height="14" rx="7"/><text x="1089" y="1608" textLength="189" lengthAdjust="spacingAndGlyphs">Realtime tracking of physical activity and health metrics</text></g>
<g id="f79" class="n"><rect x="987" y="1621.5" width="158" height="14" rx="7"/><text x="1066" y="1628.5" textLength="143" lengthAdjust="spacingAndGlyphs">Personalized feedback and health insights</text></g>
<g id="f80" class="n"><rect x="1006.5" y="1642" width="208.5" height="14" rx="7"/><text x="1110.75" y="1649" textLength="193.5" lengthAdjust="spacingAndGlyphs">Access to healthcare professionals without leaving home</text></g>
<g id="f81" class="n"><rect x="1006.5" y="1662.5" width="200.5" height="14" rx="7"/><text x="1106.75" y="1669.5" textLength="185.5" lengthAdjust="spacingAndGlyphs">Support for individuals in remote or underserved areas</text></g>
<g id="f82" class="n"><rect x="992.5" y="1683" width="190.5" height="14" rx="7"/><text x="1087.75" y="1690" textLength="175.5" lengthAdjust="spacingAndGlyphs">Designing cities that encourage walking and cycling</text></g>
<g id="f83" class="n"><rect x="992.5" y="1703.5" width="176.5" height="14" rx="7"/><text x="1080.75" y="1710.5" textLength="161.5" lengthAdjust="spacingAndGlyphs">Creating green spaces for recreational activities</text></g>
<g id="f84" class="n"><rect x="974.5" y="1724" width="170.5" height="14" rx="7"/><text x="1059.75" y="1731" textLength="155.5" lengthAdjust="spacingAndGlyphs">Promoting local and organic farming practices</text></g>
<g id="f85" class="n"><rect x="974.5" y="1744.5" width="233.5" height="14" rx="7"/><text x="1091.25" y="1751.5" textLength="218.5" lengthAdjust="spacingAndGlyphs">Reducing the carbon footprint of food production and distribution</text></g>
</svg>
